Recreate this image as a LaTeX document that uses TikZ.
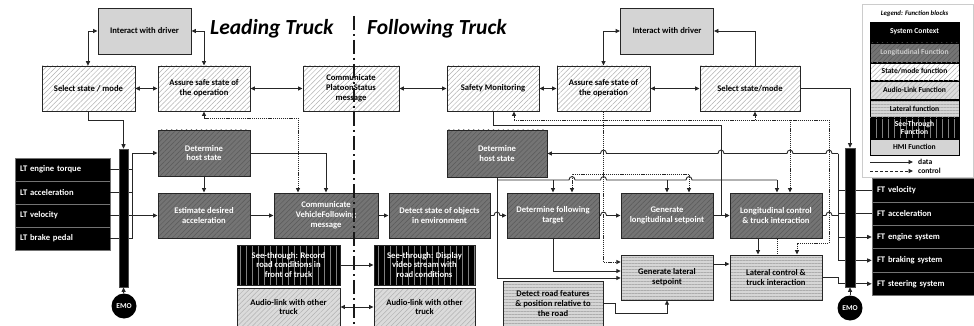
\documentclass[tikz,border=0pt]{standalone}
\usepackage{fontspec}
\setmainfont{Carlito}
\usetikzlibrary{patterns.meta,arrows.meta}
\definecolor{lonfill}{HTML}{747474}
\definecolor{lonline}{HTML}{5A5A5A}
\begin{document}
\begin{tikzpicture}[x=1pt,y=-1pt,>={Triangle[length=4.5pt,width=4pt]}]
\tikzset{
  blk/.style 2 args={draw=black!85, line width=0.9pt, inner sep=1pt, align=center,
     font=\fontsize{8.6}{9.8}\selectfont\bfseries, minimum width=#1pt, minimum height=#2pt},
  ctx/.style={fill=black, text=white},
  lon/.style={preaction={fill=lonfill}, pattern={Lines[angle=45,distance=3.5pt,line width=0.5pt]}, pattern color=lonline, text=white},
  stm/.style={preaction={fill=white}, pattern={Lines[angle=45,distance=3.5pt,line width=0.5pt]}, pattern color=black!30},
  aud/.style={preaction={fill=black!14}, pattern={Lines[angle=45,distance=3.5pt,line width=0.5pt]}, pattern color=black!30},
  lat/.style={preaction={fill=black!16}, pattern={Lines[angle=0,distance=3pt,line width=0.4pt]}, pattern color=black!32},
  see/.style={preaction={fill=black}, pattern={Lines[angle=90,distance=6pt,line width=1pt]}, pattern color=black!50, text=white},
  hmi/.style={fill=black!17},
  sigrow/.style={fill=black, text=white, draw=black!55, line width=0.6pt, inner ysep=0pt, inner xsep=5pt,
     minimum height=23pt, align=left, font=\fontsize{8.6}{9}\selectfont\bfseries},
  busbar/.style={fill=black, draw=black!70, line width=0.6pt, inner sep=0pt},
  emo/.style={circle, fill=black, text=white, inner sep=0pt, minimum size=25pt, font=\fontsize{7.5}{7.5}\selectfont\bfseries},
  lgd/.style={draw=black, line width=0.6pt, inner sep=0pt, minimum width=89pt, font=\fontsize{7.6}{7.8}\selectfont\bfseries, align=center},
  dat/.style={draw=black!85, line width=0.9pt},
  ctl/.style={draw=black!85, line width=0.9pt, dash pattern=on 1.2pt off 0.9pt},
}
\useasboundingbox (0,0) rectangle (974,326);
\fill[white] (0,0) rectangle (974,326);

% ---------- top row ----------
\node[blk={93}{46},hmi] (idl) at (144.5,31) {Interact with driver};
\node[blk={93}{46},hmi] (idr) at (667,31) {Interact with driver};
\node[blk={93}{45},stm] (ssl) at (88.5,88.5) {Select state / mode};
\node[blk={92}{45},stm] (asl) at (204,88.5) {Assure safe state of\\the operation};
\node[blk={96}{45},stm] (cps) at (351,88.5) {Communicate\\PlatoonStatus\\message};
\node[blk={92}{45},stm] (sm) at (493,88.5) {Safety Monitoring};
\node[blk={93}{45},stm] (asr) at (603.5,88.5) {Assure safe state of\\the operation};
\node[blk={100}{45},stm] (ssr) at (750,88.5) {Select state/mode};

% ---------- host state ----------
\node[blk={92}{46},lon] (hsl) at (204,153) {Determine\\host state};
\node[blk={100}{47},lon] (hsr) at (497,153.5) {Determine\\host state};

% ---------- middle row ----------
\node[blk={92}{45},lon] (eda) at (204,215.5) {Estimate desired\\acceleration};
\node[blk={104}{45},lon] (cvf) at (326,215.5) {Communicate\\VehicleFollowing\\message};
\node[blk={101}{45},lon] (dso) at (439.5,215.5) {Detect state of objects\\in environment};
\node[blk={92}{45},lon] (dft) at (553,215.5) {Determine following\\target};
\node[blk={92}{45},lon] (gls) at (667,215.5) {Generate\\longitudinal setpoint};
\node[blk={92}{45},lon] (lct) at (776,215.5) {Longitudinal control\\\& truck interaction};

% ---------- bottom row ----------
\node[blk={103}{40},see] (str) at (288.5,265) {See-through: Record\\road conditions in\\front of truck};
\node[blk={101}{40},see] (std) at (424.5,265) {See-through: Display\\video stream with\\road conditions};
\node[blk={103}{38},aud] (al1) at (288.5,307) {Audio-link with other\\truck};
\node[blk={101}{38},aud] (al2) at (424.5,307) {Audio-link with other\\truck};
\node[blk={92}{45},lat] (gla) at (667,277.5) {Generate lateral\\setpoint};
\node[blk={92}{45},lat] (lcl) at (776,277.5) {Lateral control \&\\truck interaction};
\node[blk={100}{45},lat] (drf) at (553,303.5) {Detect road features\\\& position relative to\\the road};

% ---------- system context ----------
\node[sigrow,text width=85pt] (lt1) at (62.5,169.5) {LT engine torque};
\node[sigrow,text width=85pt] (lt2) at (62.5,192.5) {LT acceleration};
\node[sigrow,text width=85pt] (lt3) at (62.5,215.5) {LT velocity};
\node[sigrow,text width=85pt] (lt4) at (62.5,238.5) {LT brake pedal};
\node[sigrow,text width=93pt,minimum height=23.4pt] (ft1) at (923.5,190.2) {FT velocity};
\node[sigrow,text width=93pt,minimum height=23.4pt] (ft2) at (923.5,213.6) {FT acceleration};
\node[sigrow,text width=93pt,minimum height=23.4pt] (ft3) at (923.5,237.0) {FT engine system};
\node[sigrow,text width=93pt,minimum height=23.4pt] (ft4) at (923.5,260.4) {FT braking system};
\node[sigrow,text width=93pt,minimum height=23.4pt] (ft5) at (923.5,283.8) {FT steering system};

\node[emo] (el) at (124,306) {EMO};
\node[emo] (er) at (850,308) {EMO};

% ---------- connectors: top ----------
\draw[dat,<->] (idl.west) -| (88,0 |- ssl.north);
\draw[dat,<->] (idl.east) -| (asl.north);
\draw[dat,<->] (ssl.east) -- (asl.west);
\draw[dat,<->] (asl.east) -- (cps.west);
\draw[dat,<->] (cps.east) -- (sm.west);
\draw[dat,<->] (sm.east) -- (asr.west);
\draw[dat,<->] (asr.east) -- (ssr.west);
\draw[dat,<->] (idr.west) -| (asr.north);
\draw[dat,->] (755,0 |- ssr.north) |- (idr.east);

% ---------- connectors: left ----------
\draw[dat] (lt1.east) -- (132,0 |- lt1.east);
\draw[dat] (lt2.east) -- (132,0 |- lt2.east);
\draw[dat,->] (lt4.east) -| (132,0 |- hsl.west) -- (hsl.west);
\draw[dat,->] (lt3.east) -- (eda.west);
\draw[dat,->] (hsl.south) -- (eda.north);
\draw[dat,->] (eda.east) -- (cvf.west);
\draw[dat,->] (hsl.east) -| (cvf.north);
\draw[ctl,<->] (298,0 |- cvf.north) -- (298,118) -| (asl.south);

% ---------- connectors: middle ----------
\draw[dat,->] (cvf.east) -- (dso.west);
\draw[dat,->] (dso.east) -- (494,215.5) .. controls (494,211) and (500,211) .. (500,215.5) -- (dft.west);
\draw[dat,->] (dft.east) -- (600.5,215.5) .. controls (600.5,211) and (606.5,211) .. (606.5,215.5) -- (gls.west);
\draw[dat,->] (gls.east) -- (lct.west);
\draw[dat,->] (hsr.south) -- (497,278) -- (gla.west |- 0,278);
\draw[dat] (hsr.south |- 0,180) -- (569,180) .. controls (569,175.5) and (575,175.5) .. (575,180)
   -- (600.5,180) .. controls (600.5,175.5) and (606.5,175.5) .. (606.5,180)
   -- (686,180) .. controls (686,175.5) and (692,175.5) .. (692,180) -- (777,180);
\draw[dat,->] (553,180) -- (dft.north);
\draw[dat,->] (667,180) -- (gls.north);
\draw[dat,->] (777,180) -- (777,0 |- lct.north);
\draw[dat,->] (sm.south) -- (493,125) -- (721,125) -- (721,0 |- lct.west) -- (lct.west);
\draw[dat,->] (838,0 |- hsr.east) -- (832,153.5) .. controls (832,149) and (826,149) .. (826,153.5)
   -- (793,153.5) .. controls (793,149) and (787,149) .. (787,153.5)
   -- (724,153.5) .. controls (724,149) and (718,149) .. (718,153.5)
   -- (606.5,153.5) .. controls (606.5,149) and (600.5,149) .. (600.5,153.5) -- (hsr.east);

% ---------- connectors: right ----------
\draw[dat] (838,153.5) -- (838,0 |- ft4.west);
\draw[dat] (ft1.west) -- (838,0 |- ft1.west);
\draw[dat] (ft2.west) -- (838,0 |- ft2.west);
\draw[dat] (lct.east) -- (826,215.5) .. controls (826,211) and (832,211) .. (832,215.5) -- (838,215.5);
\draw[dat,->] (838,0 |- ft3.west) -- (ft3.west);
\draw[dat,->] (838,0 |- ft4.west) -- (ft4.west);
\draw[dat,->] (lcl.east) -- (838,0 |- lcl.east) |- (ft5.west);

% ---------- control lines ----------
\draw[ctl,->] (asr.south) -- (603.5,262) -- (gla.west |- 0,262);
\draw[ctl,->] (603.5,174) -| (572,0 |- dft.north);
\draw[ctl,->] (603.5,174) -| (689,0 |- gls.north);
\draw[ctl] (514,120) -- (829,120);
\draw[ctl,->] (514,120) -- (514,0 |- sm.south);
\draw[ctl,->] (755,120) -- (755,0 |- ssr.south);
\draw[ctl,->] (790,120) -- (790,0 |- lct.north);
\draw[ctl,->] (829,120) -- (829,243) -| (797,0 |- lcl.north);

% ---------- lateral ----------
\draw[dat,->] (758,0 |- lct.south) -- (758,0 |- lcl.north);
\draw[ctl] (777,0 |- lct.south) -- (777,0 |- lcl.north);
\draw[dat,->] (gla.east |- 0,264) -- (lcl.west |- 0,264);
\draw[dat,->] (dft.south) |- (gla.west |- 0,271);
\draw[dat,->] (drf.east) -- (615,0 |- drf.east) -- (615,313) -| (gla.south);

% ---------- bottom left ----------
\draw[dat,->] (str.east) -- (std.west);
\draw[dat,<->] (al1.east) -- (al2.west);

% ---------- bus bars ----------
\node[busbar,minimum width=9pt,minimum height=138pt] (lb) at (123.5,218) {};
\node[busbar,minimum width=10pt,minimum height=139pt] (rb) at (850,217.5) {};
\draw[dat,->] (88,0 |- ssl.south) -- (88,120) -| (lb.north);
\draw[dat,->] (ssr.east) -| (rb.north);
\draw[dat,->] (el) -- (lb.south);
\draw[dat,->] (er) -- (rb.south);

% ---------- divider and titles ----------
\draw[black!90, line width=1.6pt, dash pattern=on 14pt off 4pt on 2pt off 4pt] (354,16) -- (354,326);
\node[font=\fontsize{21.5}{24}\selectfont\bfseries\itshape, anchor=base west, inner sep=0pt] (ttl) at (210,35) {Leading Truck};
\node[font=\fontsize{21.5}{24}\selectfont\bfseries\itshape, anchor=base west, inner sep=0pt] (ttf) at (367,35) {Following Truck};

% ---------- legend ----------
\node[draw=black!20, line width=1pt, minimum width=111pt, minimum height=172pt, inner sep=0pt] (lg) at (917.5,91) {};
\node[font=\fontsize{6.8}{7}\selectfont\bfseries\itshape, inner sep=0pt] (lgt) at (914.5,14) {Legend: Function blocks};
\node[lgd,ctx,minimum height=20pt] (lg1) at (914.5,32) {System Context};
\node[lgd,lon,minimum height=19pt,text=black!20] (lg2) at (914.5,52.5) {Longitudinal Function};
\node[lgd,stm,minimum height=17pt] (lg3) at (914.5,71.5) {State/mode function};
\node[lgd,aud,minimum height=18pt] (lg4) at (914.5,90) {Audio-Link Function};
\node[lgd,lat,minimum height=17pt] (lg5) at (914.5,108.5) {Lateral function};
\node[lgd,see,minimum height=20pt] (lg6) at (914.5,128) {See-Through\\Function};
\node[lgd,hmi,minimum height=16pt] (lg7) at (914.5,147) {HMI Function};
\coordinate (da) at (870,162);
\coordinate (db) at (913,162);
\coordinate (ca) at (870,171);
\coordinate (cb) at (913,171);
\draw[dat,->] (da) -- (db);
\draw[dat,->,dash pattern=on 3pt off 2pt] (ca) -- (cb);
\node[anchor=west, inner sep=0pt, font=\fontsize{7.6}{7.6}\selectfont\bfseries] (ldt) at (918,162) {data};
\node[anchor=west, inner sep=0pt, font=\fontsize{7.6}{7.6}\selectfont\bfseries] (lct2) at (918,171) {control};
\end{tikzpicture}
\end{document}
